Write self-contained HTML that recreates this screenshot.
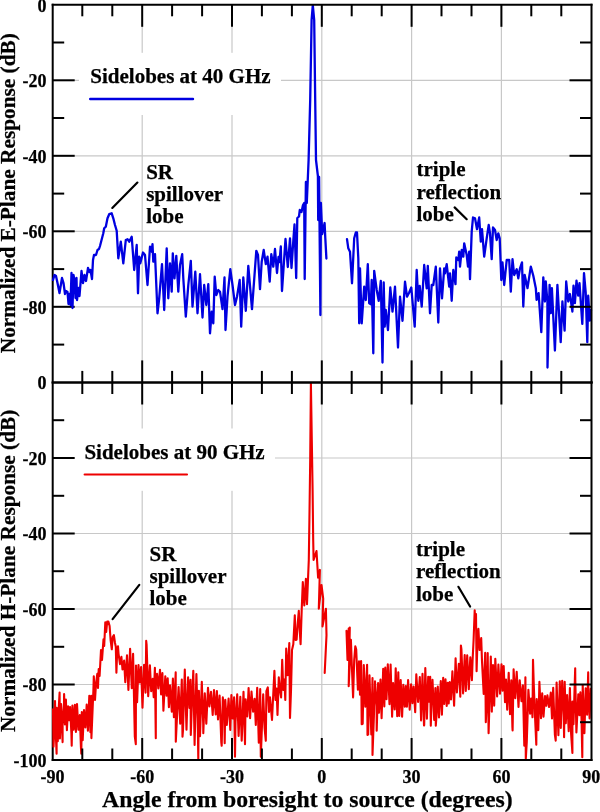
<!DOCTYPE html>
<html><head><meta charset="utf-8"><style>
html,body{margin:0;padding:0;background:#fff;}
body{width:600px;height:812px;overflow:hidden;font-family:"Liberation Serif",serif;}
svg{display:block;will-change:transform;}
</style></head><body>
<svg width="600" height="812" viewBox="0 0 600 812">
<rect width="600" height="812" fill="#fff"/>
<line x1="142.2" y1="4.8" x2="142.2" y2="760.0" stroke="#c8c8c8" stroke-width="1.2"/>
<line x1="232.0" y1="4.8" x2="232.0" y2="760.0" stroke="#c8c8c8" stroke-width="1.2"/>
<line x1="321.8" y1="4.8" x2="321.8" y2="760.0" stroke="#c8c8c8" stroke-width="1.2"/>
<line x1="411.6" y1="4.8" x2="411.6" y2="760.0" stroke="#c8c8c8" stroke-width="1.2"/>
<line x1="501.4" y1="4.8" x2="501.4" y2="760.0" stroke="#c8c8c8" stroke-width="1.2"/>
<line x1="52.7" y1="80.3" x2="591.5" y2="80.3" stroke="#c8c8c8" stroke-width="1.2"/>
<line x1="52.7" y1="458.0" x2="591.5" y2="458.0" stroke="#c8c8c8" stroke-width="1.2"/>
<line x1="52.7" y1="155.8" x2="591.5" y2="155.8" stroke="#c8c8c8" stroke-width="1.2"/>
<line x1="52.7" y1="533.5" x2="591.5" y2="533.5" stroke="#c8c8c8" stroke-width="1.2"/>
<line x1="52.7" y1="231.3" x2="591.5" y2="231.3" stroke="#c8c8c8" stroke-width="1.2"/>
<line x1="52.7" y1="609.0" x2="591.5" y2="609.0" stroke="#c8c8c8" stroke-width="1.2"/>
<line x1="52.7" y1="306.8" x2="591.5" y2="306.8" stroke="#c8c8c8" stroke-width="1.2"/>
<line x1="52.7" y1="684.5" x2="591.5" y2="684.5" stroke="#c8c8c8" stroke-width="1.2"/>
<rect x="79" y="52.8" width="202" height="62.2" fill="#fff"/>
<rect x="73" y="428.5" width="202" height="62.3" fill="#fff"/>
<line x1="52.7" y1="42.5" x2="64.2" y2="42.5" stroke="#000" stroke-width="2.0"/>
<line x1="52.7" y1="80.3" x2="74.7" y2="80.3" stroke="#000" stroke-width="2.0"/>
<line x1="52.7" y1="118.0" x2="64.2" y2="118.0" stroke="#000" stroke-width="2.0"/>
<line x1="52.7" y1="155.8" x2="74.7" y2="155.8" stroke="#000" stroke-width="2.0"/>
<line x1="52.7" y1="193.6" x2="64.2" y2="193.6" stroke="#000" stroke-width="2.0"/>
<line x1="52.7" y1="231.3" x2="74.7" y2="231.3" stroke="#000" stroke-width="2.0"/>
<line x1="52.7" y1="269.1" x2="64.2" y2="269.1" stroke="#000" stroke-width="2.0"/>
<line x1="52.7" y1="306.8" x2="74.7" y2="306.8" stroke="#000" stroke-width="2.0"/>
<line x1="52.7" y1="344.6" x2="64.2" y2="344.6" stroke="#000" stroke-width="2.0"/>
<line x1="52.7" y1="420.2" x2="64.2" y2="420.2" stroke="#000" stroke-width="2.0"/>
<line x1="52.7" y1="458.0" x2="74.7" y2="458.0" stroke="#000" stroke-width="2.0"/>
<line x1="52.7" y1="495.8" x2="64.2" y2="495.8" stroke="#000" stroke-width="2.0"/>
<line x1="52.7" y1="533.5" x2="74.7" y2="533.5" stroke="#000" stroke-width="2.0"/>
<line x1="52.7" y1="571.2" x2="64.2" y2="571.2" stroke="#000" stroke-width="2.0"/>
<line x1="52.7" y1="609.0" x2="74.7" y2="609.0" stroke="#000" stroke-width="2.0"/>
<line x1="52.7" y1="646.8" x2="64.2" y2="646.8" stroke="#000" stroke-width="2.0"/>
<line x1="52.7" y1="684.5" x2="74.7" y2="684.5" stroke="#000" stroke-width="2.0"/>
<line x1="52.7" y1="722.2" x2="64.2" y2="722.2" stroke="#000" stroke-width="2.0"/>
<line x1="52.7" y1="3.8" x2="52.7" y2="761.0" stroke="#000" stroke-width="2.0"/>
<polyline points="53.0,280.0 54.5,275.0 56.0,276.0 57.5,283.0 59.5,293.0 62.0,278.0 63.5,283.0 65.0,294.0 66.0,291.0 67.5,292.0 68.5,304.0 69.5,294.0 70.5,305.0 71.5,273.0 72.5,308.0 73.5,275.0 74.5,280.0 75.5,298.0 76.5,278.0 77.0,300.0 78.5,288.0 79.5,296.0 81.5,271.0 83.0,283.0 84.5,275.0 86.0,281.0 88.0,268.0 89.5,272.0 90.5,270.0 92.0,279.0 93.0,260.0 94.0,255.0 96.0,255.0 97.5,250.0 99.0,249.0 100.0,246.0 103.3,233.3 104.2,228.3 105.8,226.7 107.5,218.3 109.2,214.2 111.7,213.3 113.3,218.3 115.0,225.0 116.7,230.8 118.3,258.3 120.8,241.7 123.3,263.3 125.8,240.0 127.5,239.2 129.2,241.7 131.7,236.7 134.2,270.0 136.7,245.0 138.0,293.3 139.2,256.7 140.3,263.3 143.0,252.5 145.0,255.0 147.5,285.0 150.0,246.7 151.7,251.7 152.5,244.2 153.3,261.7 155.0,254.2 157.5,313.3 159.2,298.3 162.0,264.2 164.2,310.0 166.7,248.3 168.3,298.3 170.0,263.3 171.7,291.7 172.8,253.3 174.5,278.3 176.3,255.8 178.3,291.7 180.0,265.0 182.2,254.2 183.3,278.3 185.8,316.7 188.3,285.0 190.8,260.8 192.5,306.7 195.3,271.7 197.5,313.3 200.0,274.2 202.5,317.5 204.2,285.0 206.3,305.0 208.3,284.2 210.0,333.3 211.7,311.7 213.3,323.3 214.7,276.7 216.3,295.0 218.3,290.0 220.0,291.7 222.5,309.2 224.5,277.5 225.5,330.0 227.5,296.7 230.3,269.2 232.5,285.0 235.0,305.0 237.0,296.7 239.7,280.0 241.2,326.7 243.3,277.5 245.8,310.8 248.3,265.8 252.0,309.2 256.3,250.8 258.0,255.0 260.0,289.2 261.7,261.7 263.7,250.0 265.8,264.2 267.5,256.7 269.7,281.7 271.3,254.2 273.3,266.7 275.0,249.0 277.0,273.0 278.5,257.0 279.5,262.0 280.8,246.5 282.0,291.0 285.5,239.0 287.8,267.0 290.0,238.5 291.5,268.0 293.5,238.0 294.5,224.5 296.2,278.0 297.3,218.0 299.0,216.5 299.8,210.0 301.5,212.0 303.0,205.0 304.2,203.0 304.7,279.0 305.9,182.0 306.8,203.0 308.6,160.0 310.2,100.0 311.6,20.0 312.8,5.2 314.2,20.0 315.2,100.0 316.0,160.0 317.9,176.0 318.2,220.0 319.1,177.0 320.4,315.0 320.9,203.0 322.2,234.0 324.6,223.0 325.3,238.0 326.4,258.5" fill="none" stroke="#0000e0" stroke-width="2.3" stroke-linejoin="round" stroke-linecap="round"/>
<polyline points="347.0,239.2 348.3,248.3 350.0,251.7 352.0,283.3 354.2,238.3 355.8,232.5 357.0,232.5 358.3,258.3 359.2,323.3 360.0,268.3 361.7,323.3 364.2,286.7 365.8,300.0 367.8,264.2 369.2,303.3 370.8,304.2 371.7,280.0 373.3,353.3 374.2,270.8 376.7,290.0 378.7,300.8 380.8,280.8 382.5,362.5 383.7,282.5 384.7,326.7 385.8,310.0 388.0,330.0 390.3,287.5 392.5,311.7 395.0,286.7 398.0,347.5 400.0,296.7 402.5,320.8 405.0,281.7 407.0,296.7 409.2,292.5 411.3,287.5 414.7,326.7 416.7,270.0 418.3,300.8 419.7,285.8 421.7,306.7 424.2,265.0 426.7,288.3 427.8,265.8 430.0,313.3 431.7,285.0 433.3,285.0 435.8,266.7 438.3,322.5 440.0,268.3 442.0,298.3 444.2,268.3 445.0,273.3 446.7,264.2 449.2,286.7 450.0,273.3 451.7,300.8 453.3,270.0 455.5,284.2 456.3,257.5 458.3,260.0 459.2,251.7 460.0,266.7 461.7,250.0 463.3,256.7 464.2,243.3 466.7,255.0 468.0,266.7 469.2,251.7 470.0,279.2 471.7,231.7 473.0,217.5 475.0,218.3 477.0,229.2 479.2,217.5 480.8,241.7 482.0,229.2 484.2,256.7 486.7,238.3 488.7,225.0 490.0,233.3 491.7,259.2 493.0,227.5 495.0,230.0 496.7,240.0 498.3,233.3 499.7,238.3 501.3,280.0 502.5,262.5 504.2,285.0 506.7,260.0 509.2,260.0 510.8,291.7 512.5,259.2 514.2,275.0 516.7,269.2 518.3,278.3 520.0,268.3 522.0,262.4 523.3,306.5 524.7,274.9 527.5,288.2 530.8,266.6 533.3,275.7 535.8,288.2 536.6,299.8 538.6,293.2 541.3,332.2 543.3,277.4 544.9,301.5 545.8,281.5 547.4,301.5 547.5,367.5 549.6,284.9 550.8,313.1 551.9,288.2 554.9,350.5 557.4,284.9 560.7,342.2 562.4,301.5 564.6,330.6 566.2,281.5 568.2,301.5 569.9,294.0 572.4,311.5 573.5,285.7 574.9,303.2 576.5,280.7 578.2,295.7 579.5,283.2 582.3,323.9 584.0,273.2 585.7,292.3 587.3,342.2 588.2,295.7 589.8,320.6 591.0,310.0" fill="none" stroke="#0000e0" stroke-width="2.3" stroke-linejoin="round" stroke-linecap="round"/>
<polyline points="53.0,709.3 53.5,746.7 54.2,733.0 55.0,701.0 55.9,736.8 56.6,753.7 56.7,707.9 57.8,741.3 58.7,708.5 59.6,692.6 59.9,738.5 61.1,704.0 62.6,742.1 62.6,723.5 64.0,704.6 64.1,694.1 64.9,724.4 65.9,699.6 66.9,730.1 68.1,706.3 69.3,720.3 70.1,707.0 71.4,733.8 71.7,745.7 72.4,705.6 73.6,729.6 74.9,704.8 75.9,732.0 77.0,704.1 78.4,729.8 79.8,715.0 80.9,746.8 81.3,753.7 81.8,712.1 82.7,740.1 84.0,710.1 85.4,727.5 86.7,704.5 87.9,730.8 89.3,695.8 90.4,732.1 91.3,695.9 91.4,738.1 93.4,690.0 93.8,676.4 95.0,700.0 96.0,684.0 97.3,673.9 98.0,688.0 98.7,669.0 99.6,676.0 101.0,650.0 102.0,660.0 103.5,639.4 104.2,646.0 105.3,622.2 106.2,632.0 107.2,621.6 108.4,621.6 109.6,626.0 110.6,640.0 111.8,649.3 112.7,637.0 113.9,635.1 115.0,643.0 115.8,646.8 116.4,672.7 117.2,650.0 118.0,646.2 118.5,653.3 120.0,664.1 121.4,656.9 122.5,669.5 124.1,660.6 125.3,682.3 127.0,655.2 128.4,690.0 130.1,648.9 131.8,688.1 133.1,653.9 134.8,736.3 135.8,744.2 136.0,665.5 137.1,702.3 138.5,665.0 139.7,682.5 141.1,667.1 142.5,707.8 144.1,664.7 145.6,692.6 146.2,640.8 146.6,644.5 148.2,696.3 149.9,665.2 151.2,691.2 152.7,678.8 153.7,697.3 154.9,667.9 155.8,738.3 155.9,683.0 157.0,673.9 158.3,688.4 160.0,669.9 161.1,694.4 162.4,673.0 163.4,710.7 165.3,676.4 166.6,695.6 167.7,678.4 168.9,707.3 170.0,685.2 171.8,711.6 172.9,678.6 173.9,717.1 175.7,672.4 175.8,741.7 177.3,711.0 178.6,687.0 180.2,723.8 181.8,679.6 182.5,736.7 183.0,730.1 184.8,669.5 186.5,729.8 188.1,677.3 189.5,707.9 190.5,679.8 190.8,735.0 191.7,708.9 193.3,670.8 194.6,744.9 196.4,674.1 197.7,718.6 198.3,759.0 198.9,690.8 200.0,736.2 201.8,681.9 203.2,723.4 203.3,733.3 204.8,693.4 206.3,723.6 208.0,687.9 209.4,706.4 211.0,691.8 212.7,714.9 214.0,690.1 215.7,714.5 216.9,691.1 218.0,719.5 219.6,695.6 221.3,742.4 221.7,745.8 222.8,697.4 224.3,712.7 224.7,743.3 225.3,699.7 226.8,725.0 228.6,698.6 230.3,729.9 231.4,695.1 232.7,718.4 234.1,697.4 235.0,756.7 235.5,721.8 237.2,694.3 238.6,735.9 240.3,696.7 241.7,740.8 242.1,730.7 243.5,691.8 244.5,726.5 245.0,744.2 245.6,699.2 247.3,716.4 248.6,688.0 250.1,718.3 251.5,691.6 253.1,711.6 254.6,698.7 255.8,725.0 257.2,687.8 258.8,742.6 260.2,689.1 260.8,756.7 261.6,735.6 263.2,694.3 264.6,728.1 265.8,740.8 266.4,691.2 267.8,687.4 269.0,712.0 270.0,697.4 272.0,720.0 274.4,670.8 275.5,700.0 276.6,688.5 277.5,715.0 278.8,677.4 280.0,690.0 281.1,697.4 282.2,659.7 283.3,690.0 284.4,679.6 285.3,700.0 286.2,648.6 287.7,675.2 289.3,643.1 290.0,718.0 291.0,690.7 292.0,650.0 293.3,644.2 294.8,615.3 295.6,640.0 296.6,639.7 297.6,625.0 298.8,610.9 299.7,630.0 300.6,644.2 301.7,610.0 302.8,582.1 304.3,605.4 305.9,578.8 307.0,604.3 308.8,559.9 309.4,520.0 310.2,460.0 310.9,383.5 311.8,440.0 312.6,490.0 313.2,540.0 313.6,560.0 316.5,551.0 318.1,577.6 319.9,569.9 318.8,608.7 321.5,585.0 323.2,598.7 322.5,626.4 325.9,608.7 326.5,635.3 324.7,673.0" fill="none" stroke="#ee0000" stroke-width="2.1" stroke-linejoin="round" stroke-linecap="round"/>
<polyline points="346.5,630.9 347.5,660.0 348.7,628.6 349.3,650.0 349.8,627.5 348.7,686.3 350.9,639.7 352.0,670.0 353.1,697.4 354.2,660.0 355.3,646.4 356.2,649.2 357.9,689.7 359.0,661.3 360.0,694.6 361.1,661.0 361.7,724.2 362.7,723.7 363.8,665.0 365.3,706.6 367.1,664.8 367.5,735.0 368.2,734.4 369.5,675.3 371.3,734.4 372.5,678.1 372.5,755.0 373.9,716.3 375.0,681.2 376.6,706.0 376.7,730.8 378.1,683.0 379.0,712.8 380.5,679.5 381.6,718.1 383.2,668.9 384.3,706.4 385.3,667.6 386.5,699.1 387.8,664.2 389.5,704.3 390.6,664.5 392.1,716.8 393.1,683.1 394.7,709.5 395.7,668.2 397.2,716.3 398.3,672.3 399.3,715.9 400.7,680.0 402.1,716.8 403.3,684.8 404.8,706.6 405.8,686.1 406.9,706.8 408.1,680.0 409.7,709.6 411.1,684.4 412.4,703.2 413.6,686.5 415.2,712.3 416.3,674.4 418.1,702.0 419.8,677.0 421.1,720.4 422.5,673.7 424.0,725.5 424.2,725.0 425.3,668.1 426.9,718.8 428.2,676.8 429.2,701.7 430.2,676.8 430.8,725.8 431.4,705.9 432.5,679.8 434.2,720.0 435.4,688.0 435.8,725.8 436.6,714.3 437.8,686.6 439.0,717.4 440.8,681.0 441.9,714.6 443.2,677.9 444.2,704.0 445.5,679.4 446.7,706.0 447.7,682.8 448.7,703.4 449.7,682.1 451.0,699.4 452.4,671.3 454.1,705.7 455.6,658.3 456.9,692.5 458.8,663.8 460.3,696.8 460.9,645.5 461.4,649.1 463.1,693.4 464.7,655.1 465.8,690.9 467.2,655.3 468.8,689.2 470.3,657.3 471.9,680.2 472.6,660.0 473.6,640.0 474.7,610.3 475.3,625.0 476.0,614.0 476.6,671.3 477.5,640.0 478.4,628.8 479.5,650.0 481.2,638.1 482.0,661.2 483.7,693.9 485.2,652.9 485.8,722.2 486.7,702.7 487.7,653.0 488.6,733.3 489.3,709.0 490.8,656.6 491.8,711.6 493.0,665.1 494.2,705.6 495.3,658.7 497.1,696.4 498.4,664.5 500.0,693.8 501.5,664.4 502.5,690.6 503.7,666.0 505.0,702.1 506.0,679.5 507.2,709.8 508.7,672.9 510.0,714.3 511.3,680.4 512.4,727.3 512.6,730.5 513.6,669.4 515.3,698.2 516.7,671.9 518.5,707.0 519.7,680.2 521.5,701.2 522.9,685.3 524.3,745.8 525.4,677.3 525.8,758.8 526.8,741.4 528.4,689.7 530.1,713.6 531.1,698.5 532.5,717.3 533.0,659.9 533.8,685.6 535.0,716.3 536.3,744.7 536.7,699.1 538.3,730.1 539.4,681.8 541.0,718.3 542.2,693.3 543.5,716.6 545.0,696.0 546.3,705.8 547.4,695.4 549.1,707.0 550.8,692.6 552.0,718.5 553.2,687.9 554.9,734.9 555.7,740.6 556.6,682.5 558.4,735.1 559.8,681.2 560.8,727.9 562.2,680.9 563.7,716.5 564.1,737.2 564.7,681.9 565.8,723.1 567.1,695.1 568.7,731.3 569.9,688.0 571.1,733.7 572.4,753.0 572.4,701.6 573.5,724.1 575.2,668.2 575.3,680.5 576.4,732.5 578.3,694.4 579.4,715.3 580.4,692.4 581.5,718.3 582.3,757.2 582.7,685.1 584.4,733.1 585.7,688.3 587.1,714.6 588.2,672.4 588.4,692.9 589.6,718.4 590.7,688.7" fill="none" stroke="#ee0000" stroke-width="2.1" stroke-linejoin="round" stroke-linecap="round"/>
<line x1="82.3" y1="4.8" x2="82.3" y2="16.3" stroke="#000" stroke-width="2.0"/>
<line x1="82.3" y1="382.4" x2="82.3" y2="370.9" stroke="#000" stroke-width="2.0"/>
<line x1="112.3" y1="4.8" x2="112.3" y2="16.3" stroke="#000" stroke-width="2.0"/>
<line x1="112.3" y1="382.4" x2="112.3" y2="370.9" stroke="#000" stroke-width="2.0"/>
<line x1="142.2" y1="4.8" x2="142.2" y2="26.8" stroke="#000" stroke-width="2.0"/>
<line x1="142.2" y1="382.4" x2="142.2" y2="360.4" stroke="#000" stroke-width="2.0"/>
<line x1="172.1" y1="4.8" x2="172.1" y2="16.3" stroke="#000" stroke-width="2.0"/>
<line x1="172.1" y1="382.4" x2="172.1" y2="370.9" stroke="#000" stroke-width="2.0"/>
<line x1="202.1" y1="4.8" x2="202.1" y2="16.3" stroke="#000" stroke-width="2.0"/>
<line x1="202.1" y1="382.4" x2="202.1" y2="370.9" stroke="#000" stroke-width="2.0"/>
<line x1="232.0" y1="4.8" x2="232.0" y2="26.8" stroke="#000" stroke-width="2.0"/>
<line x1="232.0" y1="382.4" x2="232.0" y2="360.4" stroke="#000" stroke-width="2.0"/>
<line x1="261.9" y1="4.8" x2="261.9" y2="16.3" stroke="#000" stroke-width="2.0"/>
<line x1="261.9" y1="382.4" x2="261.9" y2="370.9" stroke="#000" stroke-width="2.0"/>
<line x1="291.9" y1="4.8" x2="291.9" y2="16.3" stroke="#000" stroke-width="2.0"/>
<line x1="291.9" y1="382.4" x2="291.9" y2="370.9" stroke="#000" stroke-width="2.0"/>
<line x1="321.8" y1="4.8" x2="321.8" y2="26.8" stroke="#000" stroke-width="2.0"/>
<line x1="321.8" y1="382.4" x2="321.8" y2="360.4" stroke="#000" stroke-width="2.0"/>
<line x1="351.7" y1="4.8" x2="351.7" y2="16.3" stroke="#000" stroke-width="2.0"/>
<line x1="351.7" y1="382.4" x2="351.7" y2="370.9" stroke="#000" stroke-width="2.0"/>
<line x1="381.7" y1="4.8" x2="381.7" y2="16.3" stroke="#000" stroke-width="2.0"/>
<line x1="381.7" y1="382.4" x2="381.7" y2="370.9" stroke="#000" stroke-width="2.0"/>
<line x1="411.6" y1="4.8" x2="411.6" y2="26.8" stroke="#000" stroke-width="2.0"/>
<line x1="411.6" y1="382.4" x2="411.6" y2="360.4" stroke="#000" stroke-width="2.0"/>
<line x1="441.5" y1="4.8" x2="441.5" y2="16.3" stroke="#000" stroke-width="2.0"/>
<line x1="441.5" y1="382.4" x2="441.5" y2="370.9" stroke="#000" stroke-width="2.0"/>
<line x1="471.5" y1="4.8" x2="471.5" y2="16.3" stroke="#000" stroke-width="2.0"/>
<line x1="471.5" y1="382.4" x2="471.5" y2="370.9" stroke="#000" stroke-width="2.0"/>
<line x1="501.4" y1="4.8" x2="501.4" y2="26.8" stroke="#000" stroke-width="2.0"/>
<line x1="501.4" y1="382.4" x2="501.4" y2="360.4" stroke="#000" stroke-width="2.0"/>
<line x1="531.3" y1="4.8" x2="531.3" y2="16.3" stroke="#000" stroke-width="2.0"/>
<line x1="531.3" y1="382.4" x2="531.3" y2="370.9" stroke="#000" stroke-width="2.0"/>
<line x1="561.3" y1="4.8" x2="561.3" y2="16.3" stroke="#000" stroke-width="2.0"/>
<line x1="561.3" y1="382.4" x2="561.3" y2="370.9" stroke="#000" stroke-width="2.0"/>
<line x1="591.5" y1="42.5" x2="580.0" y2="42.5" stroke="#000" stroke-width="2.0"/>
<line x1="591.5" y1="80.3" x2="569.5" y2="80.3" stroke="#000" stroke-width="2.0"/>
<line x1="591.5" y1="118.0" x2="580.0" y2="118.0" stroke="#000" stroke-width="2.0"/>
<line x1="591.5" y1="155.8" x2="569.5" y2="155.8" stroke="#000" stroke-width="2.0"/>
<line x1="591.5" y1="193.6" x2="580.0" y2="193.6" stroke="#000" stroke-width="2.0"/>
<line x1="591.5" y1="231.3" x2="569.5" y2="231.3" stroke="#000" stroke-width="2.0"/>
<line x1="591.5" y1="269.1" x2="580.0" y2="269.1" stroke="#000" stroke-width="2.0"/>
<line x1="591.5" y1="306.8" x2="569.5" y2="306.8" stroke="#000" stroke-width="2.0"/>
<line x1="591.5" y1="344.6" x2="580.0" y2="344.6" stroke="#000" stroke-width="2.0"/>
<line x1="51.7" y1="4.8" x2="592.5" y2="4.8" stroke="#000" stroke-width="2.0"/>
<line x1="51.7" y1="382.4" x2="592.5" y2="382.4" stroke="#000" stroke-width="2.0"/>
<line x1="591.5" y1="3.8" x2="591.5" y2="383.4" stroke="#000" stroke-width="2.0"/>
<line x1="82.3" y1="382.5" x2="82.3" y2="394.0" stroke="#000" stroke-width="2.0"/>
<line x1="82.3" y1="760.0" x2="82.3" y2="748.5" stroke="#000" stroke-width="2.0"/>
<line x1="112.3" y1="382.5" x2="112.3" y2="394.0" stroke="#000" stroke-width="2.0"/>
<line x1="112.3" y1="760.0" x2="112.3" y2="748.5" stroke="#000" stroke-width="2.0"/>
<line x1="142.2" y1="382.5" x2="142.2" y2="404.5" stroke="#000" stroke-width="2.0"/>
<line x1="142.2" y1="760.0" x2="142.2" y2="738.0" stroke="#000" stroke-width="2.0"/>
<line x1="172.1" y1="382.5" x2="172.1" y2="394.0" stroke="#000" stroke-width="2.0"/>
<line x1="172.1" y1="760.0" x2="172.1" y2="748.5" stroke="#000" stroke-width="2.0"/>
<line x1="202.1" y1="382.5" x2="202.1" y2="394.0" stroke="#000" stroke-width="2.0"/>
<line x1="202.1" y1="760.0" x2="202.1" y2="748.5" stroke="#000" stroke-width="2.0"/>
<line x1="232.0" y1="382.5" x2="232.0" y2="404.5" stroke="#000" stroke-width="2.0"/>
<line x1="232.0" y1="760.0" x2="232.0" y2="738.0" stroke="#000" stroke-width="2.0"/>
<line x1="261.9" y1="382.5" x2="261.9" y2="394.0" stroke="#000" stroke-width="2.0"/>
<line x1="261.9" y1="760.0" x2="261.9" y2="748.5" stroke="#000" stroke-width="2.0"/>
<line x1="291.9" y1="382.5" x2="291.9" y2="394.0" stroke="#000" stroke-width="2.0"/>
<line x1="291.9" y1="760.0" x2="291.9" y2="748.5" stroke="#000" stroke-width="2.0"/>
<line x1="321.8" y1="382.5" x2="321.8" y2="404.5" stroke="#000" stroke-width="2.0"/>
<line x1="321.8" y1="760.0" x2="321.8" y2="738.0" stroke="#000" stroke-width="2.0"/>
<line x1="351.7" y1="382.5" x2="351.7" y2="394.0" stroke="#000" stroke-width="2.0"/>
<line x1="351.7" y1="760.0" x2="351.7" y2="748.5" stroke="#000" stroke-width="2.0"/>
<line x1="381.7" y1="382.5" x2="381.7" y2="394.0" stroke="#000" stroke-width="2.0"/>
<line x1="381.7" y1="760.0" x2="381.7" y2="748.5" stroke="#000" stroke-width="2.0"/>
<line x1="411.6" y1="382.5" x2="411.6" y2="404.5" stroke="#000" stroke-width="2.0"/>
<line x1="411.6" y1="760.0" x2="411.6" y2="738.0" stroke="#000" stroke-width="2.0"/>
<line x1="441.5" y1="382.5" x2="441.5" y2="394.0" stroke="#000" stroke-width="2.0"/>
<line x1="441.5" y1="760.0" x2="441.5" y2="748.5" stroke="#000" stroke-width="2.0"/>
<line x1="471.5" y1="382.5" x2="471.5" y2="394.0" stroke="#000" stroke-width="2.0"/>
<line x1="471.5" y1="760.0" x2="471.5" y2="748.5" stroke="#000" stroke-width="2.0"/>
<line x1="501.4" y1="382.5" x2="501.4" y2="404.5" stroke="#000" stroke-width="2.0"/>
<line x1="501.4" y1="760.0" x2="501.4" y2="738.0" stroke="#000" stroke-width="2.0"/>
<line x1="531.3" y1="382.5" x2="531.3" y2="394.0" stroke="#000" stroke-width="2.0"/>
<line x1="531.3" y1="760.0" x2="531.3" y2="748.5" stroke="#000" stroke-width="2.0"/>
<line x1="561.3" y1="382.5" x2="561.3" y2="394.0" stroke="#000" stroke-width="2.0"/>
<line x1="561.3" y1="760.0" x2="561.3" y2="748.5" stroke="#000" stroke-width="2.0"/>
<line x1="591.5" y1="420.2" x2="580.0" y2="420.2" stroke="#000" stroke-width="2.0"/>
<line x1="591.5" y1="458.0" x2="569.5" y2="458.0" stroke="#000" stroke-width="2.0"/>
<line x1="591.5" y1="495.8" x2="580.0" y2="495.8" stroke="#000" stroke-width="2.0"/>
<line x1="591.5" y1="533.5" x2="569.5" y2="533.5" stroke="#000" stroke-width="2.0"/>
<line x1="591.5" y1="571.2" x2="580.0" y2="571.2" stroke="#000" stroke-width="2.0"/>
<line x1="591.5" y1="609.0" x2="569.5" y2="609.0" stroke="#000" stroke-width="2.0"/>
<line x1="591.5" y1="646.8" x2="580.0" y2="646.8" stroke="#000" stroke-width="2.0"/>
<line x1="591.5" y1="684.5" x2="569.5" y2="684.5" stroke="#000" stroke-width="2.0"/>
<line x1="591.5" y1="722.2" x2="580.0" y2="722.2" stroke="#000" stroke-width="2.0"/>
<line x1="51.7" y1="382.5" x2="592.5" y2="382.5" stroke="#000" stroke-width="2.0"/>
<line x1="51.7" y1="760.0" x2="592.5" y2="760.0" stroke="#000" stroke-width="2.0"/>
<line x1="591.5" y1="381.5" x2="591.5" y2="761.0" stroke="#000" stroke-width="2.0"/>
<line x1="112.3" y1="207.9" x2="137.4" y2="182.6" stroke="#000" stroke-width="2.2" stroke-linecap="round"/>
<line x1="454.6" y1="207.4" x2="466.7" y2="219.2" stroke="#000" stroke-width="2.2" stroke-linecap="round"/>
<line x1="112.6" y1="619.2" x2="139.3" y2="584.8" stroke="#000" stroke-width="2.2" stroke-linecap="round"/>
<line x1="458.4" y1="586.8" x2="470.1" y2="606.5" stroke="#000" stroke-width="2.2" stroke-linecap="round"/>
<line x1="90.2" y1="99" x2="193" y2="99" stroke="#0000e0" stroke-width="2.4" stroke-linecap="round"/>
<line x1="84.6" y1="474.5" x2="187" y2="474.5" stroke="#ee0000" stroke-width="2.1" stroke-linecap="round"/>
<g font-family="Liberation Serif" font-weight="bold" fill="#000" stroke="#000" stroke-width="0.25" style="font-variant-ligatures:none;font-kerning:normal"><text x="46.6" y="11.7" font-size="18" text-anchor="end">0</text>
<text x="46.6" y="87.2" font-size="18" text-anchor="end">-20</text>
<text x="46.6" y="162.7" font-size="18" text-anchor="end">-40</text>
<text x="46.6" y="238.2" font-size="18" text-anchor="end">-60</text>
<text x="46.6" y="313.7" font-size="18" text-anchor="end">-80</text>
<text x="46.6" y="389.4" font-size="18" text-anchor="end">0</text>
<text x="46.6" y="464.9" font-size="18" text-anchor="end">-20</text>
<text x="46.6" y="540.4" font-size="18" text-anchor="end">-40</text>
<text x="46.6" y="615.9" font-size="18" text-anchor="end">-60</text>
<text x="46.6" y="691.4" font-size="18" text-anchor="end">-80</text>
<text x="46.6" y="766.9" font-size="18" text-anchor="end">-100</text>
<text x="52.4" y="783.0" font-size="18" text-anchor="middle">-90</text>
<text x="142.2" y="783.0" font-size="18" text-anchor="middle">-60</text>
<text x="232.0" y="783.0" font-size="18" text-anchor="middle">-30</text>
<text x="321.8" y="783.0" font-size="18" text-anchor="middle">0</text>
<text x="411.6" y="783.0" font-size="18" text-anchor="middle">30</text>
<text x="501.4" y="783.0" font-size="18" text-anchor="middle">60</text>
<text x="591.2" y="783.0" font-size="18" text-anchor="middle">90</text>
<text x="102.1" y="806.8" font-size="23.75" text-anchor="start">Angle from boresight to source (degrees)</text>
<text transform="translate(15.3,193.2) rotate(-90)" font-size="21.3" text-anchor="middle">Normalized E-Plane Response (dB)</text>
<text transform="translate(15.3,570.9) rotate(-90)" font-size="21.3" text-anchor="middle">Normalized H-Plane Response (dB)</text>
<text x="90.3" y="83.0" font-size="21" text-anchor="start">Sidelobes at 40 GHz</text>
<text x="84.4" y="458.6" font-size="21" text-anchor="start">Sidelobes at 90 GHz</text>
<text x="146.2" y="178.5" font-size="21" text-anchor="start">SR</text>
<text x="146.2" y="200.8" font-size="21" text-anchor="start">spillover</text>
<text x="146.2" y="222.7" font-size="21" text-anchor="start">lobe</text>
<text x="416.5" y="175.9" font-size="21" text-anchor="start">triple</text>
<text x="416.5" y="198.6" font-size="21" text-anchor="start">reflection</text>
<text x="416.5" y="220.8" font-size="21" text-anchor="start">lobe</text>
<text x="149.5" y="560.5" font-size="21" text-anchor="start">SR</text>
<text x="149.5" y="582.5" font-size="21" text-anchor="start">spillover</text>
<text x="149.5" y="605.0" font-size="21" text-anchor="start">lobe</text>
<text x="416.0" y="555.8" font-size="21" text-anchor="start">triple</text>
<text x="416.0" y="578.3" font-size="21" text-anchor="start">reflection</text>
<text x="416.0" y="601.0" font-size="21" text-anchor="start">lobe</text></g>
</svg>
</body></html>
